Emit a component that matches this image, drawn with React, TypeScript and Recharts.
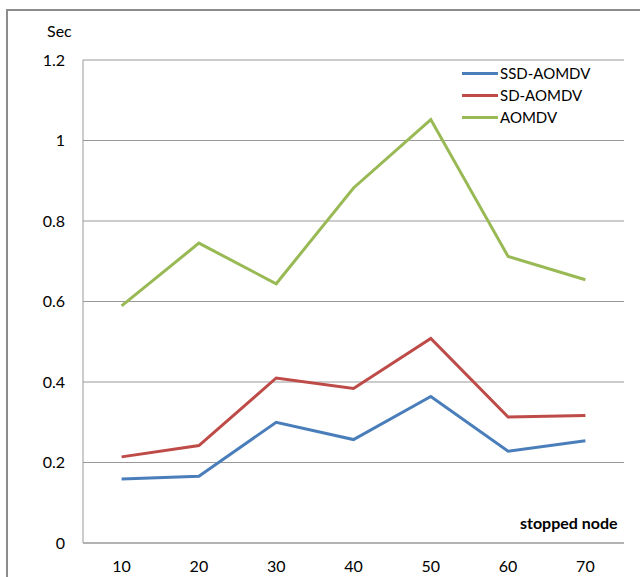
import { LineChart, Line, XAxis, YAxis, CartesianGrid, Legend } from "recharts";

const nodes = [10, 20, 30, 40, 50, 60, 70];
const ssdAomdv = [0.159, 0.166, 0.3, 0.257, 0.364, 0.228, 0.254];
const sdAomdv = [0.214, 0.242, 0.41, 0.384, 0.508, 0.313, 0.317];
const aomdv = [0.589, 0.745, 0.644, 0.882, 1.052, 0.712, 0.654];
const yTicks = [0, 0.2, 0.4, 0.6, 0.8, 1, 1.2];

const series = [
  { key: "ssd", name: "SSD-AOMDV", color: "#4a7ebb" },
  { key: "sd", name: "SD-AOMDV", color: "#be4b48" },
  { key: "aomdv", name: "AOMDV", color: "#98b954" },
];

const data = nodes.map((n, i) => ({
  node: n,
  ssd: ssdAomdv[i],
  sd: sdAomdv[i],
  aomdv: aomdv[i],
}));

const font = "Lato, 'Open Sans', sans-serif";

const LegendBox = () => (
  <div style={{ fontFamily: font, fontSize: 15, color: "#000" }}>
    {series.map((s) => (
      <div key={s.key} style={{ display: "flex", alignItems: "center", height: 22 }}>
        <span style={{ display: "inline-block", width: 36, height: 3, background: s.color, marginRight: 2 }} />
        <span>{s.name}</span>
      </div>
    ))}
  </div>
);

const App = () => {
  return (
    <div style={{ position: "absolute", left: 0, top: 0, width: 640, height: 577, overflow: "hidden", background: "#fff" }}>
      <div
        style={{
          position: "absolute",
          left: 6,
          top: 9,
          width: 700,
          height: 700,
          borderTop: "2px solid #8c8c8c",
          borderLeft: "2px solid #8c8c8c",
        }}
      />
      <div style={{ position: "absolute", left: 47, top: 21, fontFamily: font, fontSize: 16, color: "#000" }}>Sec</div>
      <div style={{ position: "absolute", left: 520, top: 513, fontFamily: font, fontSize: 16, fontWeight: "bold", color: "#000" }}>
        stopped node
      </div>
      <div style={{ position: "absolute", left: 0, top: 0 }}>
        <LineChart width={640} height={577} data={data} margin={{ top: 60, right: 16, bottom: 0, left: 0 }}>
          <CartesianGrid vertical={false} stroke="#999" />
          <XAxis
            dataKey="node"
            height={34}
            padding={{ left: 38.6, right: 38.6 }}
            tickLine={false}
            tickSize={0}
            tickMargin={18}
            axisLine={{ stroke: "#999" }}
            tick={{ fill: "#000", fontSize: 16, fontFamily: font }}
          />
          <YAxis
            width={83}
            domain={[0, 1.2]}
            ticks={yTicks}
            tickFormatter={(v: number) => String(v)}
            tickLine={false}
            tickSize={0}
            tickMargin={18}
            axisLine={{ stroke: "#999" }}
            tick={{ fill: "#000", fontSize: 16, fontFamily: font }}
          />
          <Legend
            layout="horizontal"
            verticalAlign="middle"
            content={<LegendBox />}
            wrapperStyle={{ position: "absolute", left: 462, top: 62, width: 170 }}
          />
          {series.map((s) => (
            <Line
              key={s.key}
              type="linear"
              dataKey={s.key}
              name={s.name}
              stroke={s.color}
              strokeWidth={3}
              dot={false}
              isAnimationActive={false}
            />
          ))}
        </LineChart>
      </div>
    </div>
  );
};

export default App;
